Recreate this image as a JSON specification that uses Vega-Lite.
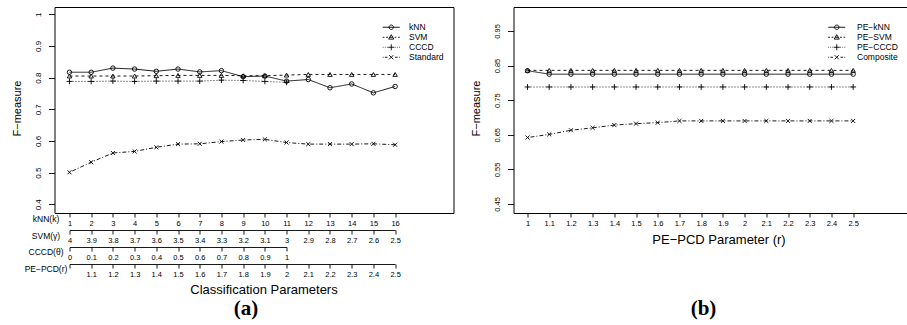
{
  "$schema": "https://vega.github.io/schema/vega-lite/v6.json",
  "padding": {"left": 10.5, "top": 6, "right": 0, "bottom": 0},
  "bounds": "flush",
  "spacing": 60,
  "config": {
    "font": "Liberation Sans",
    "view": {"stroke": "black", "strokeWidth": 1},
    "axis": {"labelColor": "black", "titleColor": "black", "tickColor": "black", "domainColor": "black", "titleFontWeight": "normal", "grid": false, "labelFlush": false, "labelOverlap": false}
  },
  "datasets": {
    "a": [
      {"k": 1, "method": "kNN", "v": 0.817}, {"k": 2, "method": "kNN", "v": 0.817}, {"k": 3, "method": "kNN", "v": 0.830}, {"k": 4, "method": "kNN", "v": 0.827},
      {"k": 5, "method": "kNN", "v": 0.820}, {"k": 6, "method": "kNN", "v": 0.827}, {"k": 7, "method": "kNN", "v": 0.818}, {"k": 8, "method": "kNN", "v": 0.822},
      {"k": 9, "method": "kNN", "v": 0.803}, {"k": 10, "method": "kNN", "v": 0.805}, {"k": 11, "method": "kNN", "v": 0.789}, {"k": 12, "method": "kNN", "v": 0.794},
      {"k": 13, "method": "kNN", "v": 0.768}, {"k": 14, "method": "kNN", "v": 0.780}, {"k": 15, "method": "kNN", "v": 0.752}, {"k": 16, "method": "kNN", "v": 0.772},
      {"k": 1, "method": "SVM", "v": 0.805}, {"k": 2, "method": "SVM", "v": 0.805}, {"k": 3, "method": "SVM", "v": 0.805}, {"k": 4, "method": "SVM", "v": 0.805},
      {"k": 5, "method": "SVM", "v": 0.806}, {"k": 6, "method": "SVM", "v": 0.807}, {"k": 7, "method": "SVM", "v": 0.807}, {"k": 8, "method": "SVM", "v": 0.807},
      {"k": 9, "method": "SVM", "v": 0.806}, {"k": 10, "method": "SVM", "v": 0.806}, {"k": 11, "method": "SVM", "v": 0.808}, {"k": 12, "method": "SVM", "v": 0.810},
      {"k": 13, "method": "SVM", "v": 0.810}, {"k": 14, "method": "SVM", "v": 0.810}, {"k": 15, "method": "SVM", "v": 0.810}, {"k": 16, "method": "SVM", "v": 0.810},
      {"k": 1, "method": "CCCD", "v": 0.788}, {"k": 2, "method": "CCCD", "v": 0.788}, {"k": 3, "method": "CCCD", "v": 0.789}, {"k": 4, "method": "CCCD", "v": 0.788},
      {"k": 5, "method": "CCCD", "v": 0.789}, {"k": 6, "method": "CCCD", "v": 0.789}, {"k": 7, "method": "CCCD", "v": 0.789}, {"k": 8, "method": "CCCD", "v": 0.792},
      {"k": 9, "method": "CCCD", "v": 0.791}, {"k": 10, "method": "CCCD", "v": 0.788}, {"k": 11, "method": "CCCD", "v": 0.785},
      {"k": 1, "method": "Standard", "v": 0.501}, {"k": 2, "method": "Standard", "v": 0.533}, {"k": 3, "method": "Standard", "v": 0.562}, {"k": 4, "method": "Standard", "v": 0.567},
      {"k": 5, "method": "Standard", "v": 0.580}, {"k": 6, "method": "Standard", "v": 0.590}, {"k": 7, "method": "Standard", "v": 0.591}, {"k": 8, "method": "Standard", "v": 0.598},
      {"k": 9, "method": "Standard", "v": 0.603}, {"k": 10, "method": "Standard", "v": 0.605}, {"k": 11, "method": "Standard", "v": 0.595}, {"k": 12, "method": "Standard", "v": 0.590},
      {"k": 13, "method": "Standard", "v": 0.590}, {"k": 14, "method": "Standard", "v": 0.590}, {"k": 15, "method": "Standard", "v": 0.591}, {"k": 16, "method": "Standard", "v": 0.588}
    ],
    "params": [
      {"k": 1, "gamma": 4, "theta": 0, "r": 1}, {"k": 2, "gamma": 3.9, "theta": 0.1, "r": 1.1}, {"k": 3, "gamma": 3.8, "theta": 0.2, "r": 1.2},
      {"k": 4, "gamma": 3.7, "theta": 0.3, "r": 1.3}, {"k": 5, "gamma": 3.6, "theta": 0.4, "r": 1.4}, {"k": 6, "gamma": 3.5, "theta": 0.5, "r": 1.5},
      {"k": 7, "gamma": 3.4, "theta": 0.6, "r": 1.6}, {"k": 8, "gamma": 3.3, "theta": 0.7, "r": 1.7}, {"k": 9, "gamma": 3.2, "theta": 0.8, "r": 1.8},
      {"k": 10, "gamma": 3.1, "theta": 0.9, "r": 1.9}, {"k": 11, "gamma": 3, "theta": 1, "r": 2}, {"k": 12, "gamma": 2.9, "r": 2.1},
      {"k": 13, "gamma": 2.8, "r": 2.2}, {"k": 14, "gamma": 2.7, "r": 2.3}, {"k": 15, "gamma": 2.6, "r": 2.4}, {"k": 16, "gamma": 2.5, "r": 2.5}
    ],
    "b": [
      {"r": 1, "method": "PE−kNN", "v": 0.835}, {"r": 1.1, "method": "PE−kNN", "v": 0.825}, {"r": 1.2, "method": "PE−kNN", "v": 0.825}, {"r": 1.3, "method": "PE−kNN", "v": 0.825},
      {"r": 1.4, "method": "PE−kNN", "v": 0.825}, {"r": 1.5, "method": "PE−kNN", "v": 0.825}, {"r": 1.6, "method": "PE−kNN", "v": 0.825}, {"r": 1.7, "method": "PE−kNN", "v": 0.825},
      {"r": 1.8, "method": "PE−kNN", "v": 0.825}, {"r": 1.9, "method": "PE−kNN", "v": 0.825}, {"r": 2, "method": "PE−kNN", "v": 0.825}, {"r": 2.1, "method": "PE−kNN", "v": 0.825},
      {"r": 2.2, "method": "PE−kNN", "v": 0.825}, {"r": 2.3, "method": "PE−kNN", "v": 0.825}, {"r": 2.4, "method": "PE−kNN", "v": 0.825}, {"r": 2.5, "method": "PE−kNN", "v": 0.825},
      {"r": 1, "method": "PE−SVM", "v": 0.836}, {"r": 1.1, "method": "PE−SVM", "v": 0.836}, {"r": 1.2, "method": "PE−SVM", "v": 0.836}, {"r": 1.3, "method": "PE−SVM", "v": 0.836},
      {"r": 1.4, "method": "PE−SVM", "v": 0.836}, {"r": 1.5, "method": "PE−SVM", "v": 0.836}, {"r": 1.6, "method": "PE−SVM", "v": 0.836}, {"r": 1.7, "method": "PE−SVM", "v": 0.836},
      {"r": 1.8, "method": "PE−SVM", "v": 0.836}, {"r": 1.9, "method": "PE−SVM", "v": 0.836}, {"r": 2, "method": "PE−SVM", "v": 0.836}, {"r": 2.1, "method": "PE−SVM", "v": 0.836},
      {"r": 2.2, "method": "PE−SVM", "v": 0.836}, {"r": 2.3, "method": "PE−SVM", "v": 0.836}, {"r": 2.4, "method": "PE−SVM", "v": 0.836}, {"r": 2.5, "method": "PE−SVM", "v": 0.836},
      {"r": 1, "method": "PE−CCCD", "v": 0.788}, {"r": 1.1, "method": "PE−CCCD", "v": 0.788}, {"r": 1.2, "method": "PE−CCCD", "v": 0.788}, {"r": 1.3, "method": "PE−CCCD", "v": 0.788},
      {"r": 1.4, "method": "PE−CCCD", "v": 0.788}, {"r": 1.5, "method": "PE−CCCD", "v": 0.788}, {"r": 1.6, "method": "PE−CCCD", "v": 0.788}, {"r": 1.7, "method": "PE−CCCD", "v": 0.788},
      {"r": 1.8, "method": "PE−CCCD", "v": 0.788}, {"r": 1.9, "method": "PE−CCCD", "v": 0.788}, {"r": 2, "method": "PE−CCCD", "v": 0.788}, {"r": 2.1, "method": "PE−CCCD", "v": 0.788},
      {"r": 2.2, "method": "PE−CCCD", "v": 0.788}, {"r": 2.3, "method": "PE−CCCD", "v": 0.788}, {"r": 2.4, "method": "PE−CCCD", "v": 0.788}, {"r": 2.5, "method": "PE−CCCD", "v": 0.788},
      {"r": 1, "method": "Composite", "v": 0.642}, {"r": 1.1, "method": "Composite", "v": 0.651}, {"r": 1.2, "method": "Composite", "v": 0.663}, {"r": 1.3, "method": "Composite", "v": 0.670},
      {"r": 1.4, "method": "Composite", "v": 0.678}, {"r": 1.5, "method": "Composite", "v": 0.682}, {"r": 1.6, "method": "Composite", "v": 0.685}, {"r": 1.7, "method": "Composite", "v": 0.690},
      {"r": 1.8, "method": "Composite", "v": 0.690}, {"r": 1.9, "method": "Composite", "v": 0.690}, {"r": 2, "method": "Composite", "v": 0.690}, {"r": 2.1, "method": "Composite", "v": 0.690},
      {"r": 2.2, "method": "Composite", "v": 0.690}, {"r": 2.3, "method": "Composite", "v": 0.690}, {"r": 2.4, "method": "Composite", "v": 0.690}, {"r": 2.5, "method": "Composite", "v": 0.690}
    ]
  },
  "hconcat": [
    {
      "width": 399,
      "height": 206,
      "title": {"text": "(a)", "orient": "bottom", "font": "Liberation Serif", "fontSize": 21, "fontWeight": "bold", "color": "black", "offset": 2, "dx": -8},
      "layer": [
        {
          "data": {"name": "a"},
          "encoding": {
            "x": {"field": "k", "type": "quantitative", "scale": {"domain": [0.31, 18.69], "nice": false, "zero": false},
              "axis": {"values": [1,2,3,4,5,6,7,8,9,10,11,12,13,14,15,16], "labelExpr": "format(datum.value, '~g')", "domain": false, "tickSize": 4, "tickWidth": 0.9, "labelFontSize": 7.5, "labelPadding": 2,
                "title": "kNN(k)", "titleX": -9, "titleY": 5, "titleAngle": 0, "titleAlign": "center", "titleBaseline": "middle", "titleFontSize": 8.5}},
            "y": {"field": "v", "type": "quantitative", "scale": {"domain": [0.3725, 1.023], "nice": false, "zero": false},
              "axis": {"values": [0.4,0.5,0.6,0.7,0.8,0.9,1], "labelExpr": "format(datum.value, '~g')", "domain": false, "tickSize": 6, "tickWidth": 0.9, "labelAngle": -90, "labelFontSize": 8, "labelPadding": 6.5,
                "title": "F−measure", "titleX": -37, "titleY": 101, "titleAngle": -90, "titleAlign": "center", "titleBaseline": "middle", "titleFontSize": 11}}
          },
          "layer": [
            {"mark": {"type": "line", "color": "black", "strokeWidth": 0.9},
             "encoding": {"strokeDash": {"field": "method", "type": "nominal", "scale": {"domain": ["kNN","SVM","CCCD","Standard"], "range": [[1,0],[3,3],[1,2],[1,2,4,2]]}, "legend": null}}},
            {"mark": {"type": "point", "color": "black", "filled": false, "strokeWidth": 0.9, "opacity": 1, "size": 20},
             "encoding": {"shape": {"field": "method", "type": "nominal", "scale": {"domain": ["kNN","SVM","CCCD","Standard"], "range": ["circle","triangle-up","M-1.3,0H1.3M0,-1.3V1.3","M-0.9,-0.9L0.9,0.9M-0.9,0.9L0.9,-0.9"]}, "legend": null}}}
          ]
        },
        {
          "data": {"name": "a"},
          "transform": [{"filter": "false"}],
          "mark": {"type": "point", "color": "black", "filled": false, "strokeWidth": 0.9, "opacity": 1},
          "encoding": {"shape": {"field": "method", "type": "nominal",
            "scale": {"domain": ["kNN","SVM","CCCD","Standard"], "range": [
              "M-2.83,0H2.83M0.74,0A0.74,0.74 0 1,1 -0.74,0A0.74,0.74 0 1,1 0.74,0",
              "M-2.83,0H-2.27M-1.7,0H-1.13M-0.57,0H0.57M1.13,0H1.7M2.27,0H2.83M0,-0.85L0.85,0.62L-0.85,0.62Z",
              "M-2.83,0H-2.6M-2.12,0H-1.9M-1.42,0H-1.19M1.19,0H1.42M1.9,0H2.12M2.6,0H2.83M-1,0H1M0,-1V1",
              "M-2.83,0H-2.55M-2.12,0H-1.27M1.27,0H2.12M2.55,0H2.83M-0.68,-0.68L0.68,0.68M-0.68,0.68L0.68,-0.68"]},
            "legend": {"orient": "none", "legendX": 332.5, "legendY": 16, "title": null, "padding": 0, "symbolSize": 36, "symbolStrokeWidth": 0.9, "symbolStrokeColor": "black",
              "labelFontSize": 8.5, "labelColor": "black", "labelOffset": 13.5, "rowPadding": 0}}}
        },
        {
          "data": {"name": "params"},
          "transform": [{"filter": "false"}],
          "mark": "point",
          "encoding": {"x": {"field": "gamma", "type": "quantitative", "scale": {"domain": [4, 2.5], "range": [15, 340.6], "nice": false, "zero": false},
            "axis": {"orient": "bottom", "offset": 17, "values": [4,3.9,3.8,3.7,3.6,3.5,3.4,3.3,3.2,3.1,3,2.9,2.8,2.7,2.6,2.5], "labelExpr": "format(datum.value, '~g')", "domain": true, "domainWidth": 0.9, "tickSize": 4, "tickWidth": 0.9, "labelFontSize": 7.5, "labelPadding": 2,
              "title": "SVM(γ)", "titleX": -9, "titleY": 5, "titleAngle": 0, "titleAlign": "center", "titleBaseline": "middle", "titleFontSize": 8.5}}}
        },
        {
          "data": {"name": "params"},
          "transform": [{"filter": "false"}],
          "mark": "point",
          "encoding": {"x": {"field": "theta", "type": "quantitative", "scale": {"domain": [0, 1], "range": [15, 232.1], "nice": false, "zero": false},
            "axis": {"orient": "bottom", "offset": 34, "values": [0,0.1,0.2,0.3,0.4,0.5,0.6,0.7,0.8,0.9,1], "labelExpr": "format(datum.value, '~g')", "domain": true, "domainWidth": 0.9, "tickSize": 4, "tickWidth": 0.9, "labelFontSize": 7.5, "labelPadding": 2,
              "title": "CCCD(θ)", "titleX": -9, "titleY": 4, "titleAngle": 0, "titleAlign": "center", "titleBaseline": "middle", "titleFontSize": 8.5}}}
        },
        {
          "data": {"name": "params"},
          "transform": [{"filter": "false"}],
          "mark": "point",
          "encoding": {"x": {"field": "r", "type": "quantitative", "scale": {"domain": [1, 2.5], "range": [15, 340.6], "nice": false, "zero": false},
            "axis": {"orient": "bottom", "offset": 51, "values": [1,1.1,1.2,1.3,1.4,1.5,1.6,1.7,1.8,1.9,2,2.1,2.2,2.3,2.4,2.5], "labelExpr": "datum.value == 1 ? '' : format(datum.value, '~g')", "domain": true, "domainWidth": 0.9, "tickSize": 4, "tickWidth": 0.9, "labelFontSize": 7.5, "labelPadding": 2,
              "title": "PE−PCD(r)", "titleX": -9, "titleY": 4, "titleAngle": 0, "titleAlign": "center", "titleBaseline": "middle", "titleFontSize": 8.5}}}
        },
        {
          "data": {"name": "params"},
          "transform": [{"filter": "false"}],
          "mark": "point",
          "encoding": {"x": {"field": "k", "type": "quantitative", "scale": {"domain": [0.31, 18.69], "nice": false, "zero": false},
            "axis": {"orient": "bottom", "offset": 51, "domain": false, "ticks": false, "labels": false,
              "title": "Classification Parameters", "titleX": 209, "titleY": 25, "titleAngle": 0, "titleAlign": "center", "titleBaseline": "middle", "titleFontSize": 13}}}
        }
      ],
      "resolve": {"scale": {"x": "independent", "shape": "independent"}}
    },
    {
      "width": 410,
      "height": 206,
      "title": {"text": "(b)", "orient": "bottom", "font": "Liberation Serif", "fontSize": 21, "fontWeight": "bold", "color": "black", "offset": 52, "dx": -15},
      "layer": [
        {
          "data": {"name": "b"},
          "encoding": {
            "x": {"field": "r", "type": "quantitative", "scale": {"domain": [0.9355, 2.824], "nice": false, "zero": false},
              "axis": {"values": [1,1.1,1.2,1.3,1.4,1.5,1.6,1.7,1.8,1.9,2,2.1,2.2,2.3,2.4,2.5], "labelExpr": "format(datum.value, '~g')", "domain": false, "tickSize": 4, "tickWidth": 0.9, "labelFontSize": 7.5, "labelPadding": 2,
                "title": "PE−PCD Parameter (r)", "titleX": 205, "titleY": 26, "titleAngle": 0, "titleAlign": "center", "titleBaseline": "middle", "titleFontSize": 13}},
            "y": {"field": "v", "type": "quantitative", "scale": {"domain": [0.424, 1.019], "nice": false, "zero": false},
              "axis": {"values": [0.45,0.55,0.65,0.75,0.85,0.95], "labelExpr": "format(datum.value, '.2f')", "domain": false, "tickSize": 6, "tickWidth": 0.9, "labelAngle": -90, "labelFontSize": 7.5, "labelPadding": 6,
                "title": "F−measure", "titleX": -37, "titleY": 101, "titleAngle": -90, "titleAlign": "center", "titleBaseline": "middle", "titleFontSize": 11}}
          },
          "layer": [
            {"mark": {"type": "line", "color": "black", "strokeWidth": 0.9},
             "encoding": {"strokeDash": {"field": "method", "type": "nominal", "scale": {"domain": ["PE−kNN","PE−SVM","PE−CCCD","Composite"], "range": [[1,0],[3,3],[1,2],[1,2,4,2]]}, "legend": null}}},
            {"mark": {"type": "point", "color": "black", "filled": false, "strokeWidth": 0.9, "opacity": 1, "size": 20},
             "encoding": {"shape": {"field": "method", "type": "nominal", "scale": {"domain": ["PE−kNN","PE−SVM","PE−CCCD","Composite"], "range": ["circle","triangle-up","M-1.3,0H1.3M0,-1.3V1.3","M-0.9,-0.9L0.9,0.9M-0.9,0.9L0.9,-0.9"]}, "legend": null}}}
          ]
        },
        {
          "data": {"name": "b"},
          "transform": [{"filter": "false"}],
          "mark": {"type": "point", "color": "black", "filled": false, "strokeWidth": 0.9, "opacity": 1},
          "encoding": {"shape": {"field": "method", "type": "nominal",
            "scale": {"domain": ["PE−kNN","PE−SVM","PE−CCCD","Composite"], "range": [
              "M-2.83,0H2.83M0.74,0A0.74,0.74 0 1,1 -0.74,0A0.74,0.74 0 1,1 0.74,0",
              "M-2.83,0H-2.27M-1.7,0H-1.13M-0.57,0H0.57M1.13,0H1.7M2.27,0H2.83M0,-0.85L0.85,0.62L-0.85,0.62Z",
              "M-2.83,0H-2.6M-2.12,0H-1.9M-1.42,0H-1.19M1.19,0H1.42M1.9,0H2.12M2.6,0H2.83M-1,0H1M0,-1V1",
              "M-2.83,0H-2.55M-2.12,0H-1.27M1.27,0H2.12M2.55,0H2.83M-0.68,-0.68L0.68,0.68M-0.68,0.68L0.68,-0.68"]},
            "legend": {"orient": "none", "legendX": 319, "legendY": 16, "title": null, "padding": 0, "symbolSize": 36, "symbolStrokeWidth": 0.9, "symbolStrokeColor": "black",
              "labelFontSize": 8.5, "labelColor": "black", "labelOffset": 16, "rowPadding": 0}}}
        }
      ],
      "resolve": {"scale": {"shape": "independent"}}
    }
  ]
}
